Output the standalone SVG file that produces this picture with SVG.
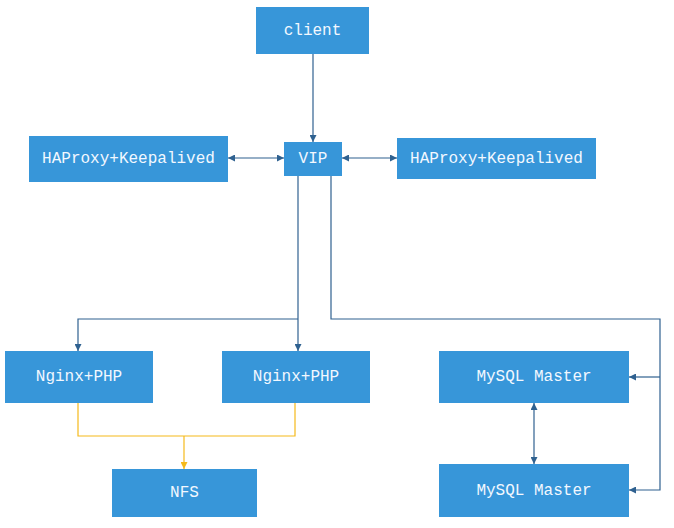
<svg xmlns="http://www.w3.org/2000/svg" width="674" height="528" viewBox="0 0 674 528">
<style>
.box{fill:#3796D9;}
.t{font-family:"Liberation Mono","DejaVu Sans Mono",monospace;font-size:16px;fill:#F2F8FF;text-anchor:middle;dominant-baseline:central;}
.c{fill:none;stroke:#2F6190;stroke-width:1.2;}
.y{fill:none;stroke:#F5BA1B;stroke-width:1.2;}
</style>
<defs>
<marker id="a" viewBox="0 0 10 10" refX="10" refY="5" markerWidth="7" markerHeight="7" orient="auto-start-reverse" markerUnits="userSpaceOnUse"><path d="M0,0 L10,5 L0,10 z" fill="#2F6190"/></marker>
<marker id="ay" viewBox="0 0 10 10" refX="10" refY="5" markerWidth="7" markerHeight="7" orient="auto" markerUnits="userSpaceOnUse"><path d="M0,0 L10,5 L0,10 z" fill="#F5BA1B"/></marker>
</defs>
<rect width="674" height="528" fill="#FFFFFF"/>
<g id="connectors">
<path class="c" d="M313,54 V142" marker-end="url(#a)"/>
<path class="c" d="M228,158 H284" marker-start="url(#a)" marker-end="url(#a)"/>
<path class="c" d="M342,158 H397" marker-start="url(#a)" marker-end="url(#a)"/>
<path class="c" d="M298,176 V351" marker-end="url(#a)"/>
<path class="c" d="M298,319 H78 V351" marker-end="url(#a)"/>
<path class="c" d="M331,176 V319 H660 V490 H629" marker-end="url(#a)"/>
<path class="c" d="M660,377 H629" marker-end="url(#a)"/>
<path class="c" d="M534,403 V464" marker-start="url(#a)" marker-end="url(#a)"/>
<path class="y" d="M78,403 V436 H295 V403"/>
<path class="y" d="M184,436 V469" marker-end="url(#ay)"/>
</g>
<g id="client"><rect class="box" x="256" y="7" width="113" height="47"/><text class="t" x="312.5" y="30.5">client</text></g>
<g id="vip"><rect class="box" x="284" y="142" width="58" height="34"/><text class="t" x="313" y="159">VIP</text></g>
<g id="haproxy-left"><rect class="box" x="29" y="136" width="199" height="46"/><text class="t" x="128.5" y="159">HAProxy+Keepalived</text></g>
<g id="haproxy-right"><rect class="box" x="397" y="138" width="199" height="41"/><text class="t" x="496.5" y="158.5">HAProxy+Keepalived</text></g>
<g id="nginx-left"><rect class="box" x="5" y="351" width="148" height="52"/><text class="t" x="79" y="377">Nginx+PHP</text></g>
<g id="nginx-right"><rect class="box" x="222" y="351" width="148" height="52"/><text class="t" x="296" y="377">Nginx+PHP</text></g>
<g id="mysql-top"><rect class="box" x="439" y="351" width="190" height="52"/><text class="t" x="534" y="377">MySQL Master</text></g>
<g id="mysql-bottom"><rect class="box" x="439" y="464" width="190" height="53"/><text class="t" x="534" y="490.5">MySQL Master</text></g>
<g id="nfs"><rect class="box" x="112" y="469" width="145" height="48"/><text class="t" x="184.5" y="493">NFS</text></g>
</svg>
